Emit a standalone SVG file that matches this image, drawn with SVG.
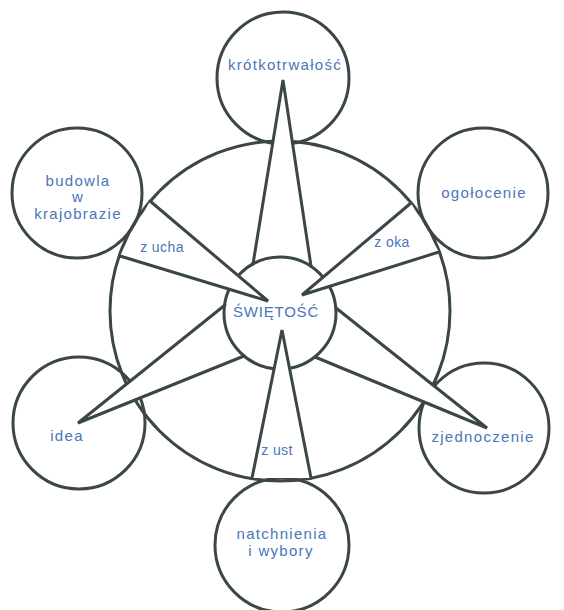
<svg xmlns="http://www.w3.org/2000/svg" width="564" height="610" viewBox="0 0 564 610">
<style>
.c{fill:none;stroke:#3b4646;stroke-width:3}
.f{fill:#ffffff;stroke:none}
.l{stroke:#3b4646;stroke-width:3;stroke-linecap:round;fill:none}
text{font-family:"Liberation Sans","Noto Sans",sans-serif;fill:#4a76b8;text-anchor:middle}
.t{font-size:15px;letter-spacing:1.3px}
.s{font-size:14px;letter-spacing:0.4px}
</style>
<rect width="564" height="610" fill="#ffffff"/>
<g id="ring"><circle class="c" cx="280" cy="311" r="170"/></g>
<g id="krotkotrwalosc"><circle class="c" cx="283" cy="78" r="66"/></g>
<g id="budowla"><circle class="c" cx="77" cy="193" r="65"/></g>
<g id="ogolocenie"><circle class="c" cx="483" cy="193" r="65"/></g>
<g id="idea"><circle class="c" cx="79" cy="423" r="66"/></g>
<g id="zjednoczenie"><circle class="c" cx="484" cy="428" r="65"/></g>
<g id="natchnienia"><circle class="c" cx="282" cy="545" r="67"/></g>
<g id="spoke-fills-outer">
<polygon class="f" points="283,80 253,264 311,266"/>
<polygon class="f" points="78,423 225,305 244,356"/>
<polygon class="f" points="487,428 336,308 315,357"/>
</g>
<g id="swietosc"><circle class="c" cx="280" cy="313" r="56"/></g>
<g id="connectors">
<polygon class="f" points="268,301 150,201 120,256"/>
<polygon class="f" points="302,295 411,203 439,252"/>
<polygon class="f" points="282,330 252,478 311,478"/>
<polyline class="l" points="253,264 283,80 311,266"/>
<polyline class="l" points="150,201 268,301 120,256"/>
<polyline class="l" points="411,203 302,295 439,252"/>
<polyline class="l" points="252,478 282,330 311,478"/>
<polyline class="l" points="225,305 78,423 244,356"/>
<polyline class="l" points="336,308 487,428 315,357"/>
<text class="s" x="162" y="252">z ucha</text>
<text class="s" x="392" y="247">z oka</text>
<text class="s" x="277" y="455">z ust</text>
</g>
<g id="labels">
<text class="t" x="285" y="70">krótkotrwałość</text>
<text class="t" x="78" y="186">budowla</text>
<text class="t" x="78" y="202">w</text>
<text class="t" x="78" y="219">krajobrazie</text>
<text class="t" x="484" y="198">ogołocenie</text>
<text class="t" x="67" y="441">idea</text>
<text class="t" x="483" y="442">zjednoczenie</text>
<text class="t" x="282" y="539">natchnienia</text>
<text class="t" x="281" y="556">i wybory</text>
<text x="276" y="317" style="font-size:15px;letter-spacing:0.8px">ŚWIĘTOŚĆ</text>
</g>
</svg>
